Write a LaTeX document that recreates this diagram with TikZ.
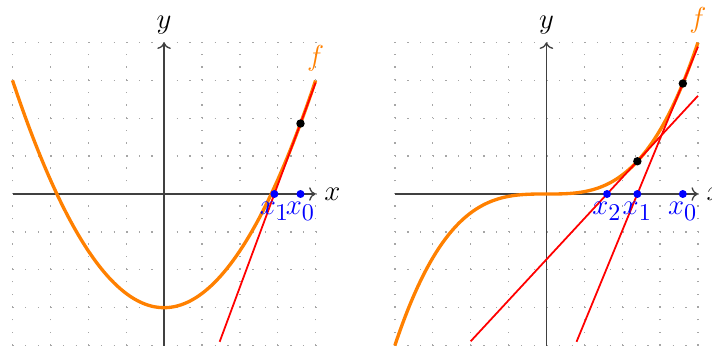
\documentclass[tikz,border=0pt]{standalone}
\usepackage{tikz}
\usepackage{amsmath}
\usetikzlibrary{arrows.meta, positioning}
\DeclareMathSizes{12}{12}{10}{7}

\begin{document}
\begin{tikzpicture}[
        x=0.6cm, y=0.6cm,
        font=\large,
        lbl/.style={scale=1.083},
        gridline/.style={gray!70, line width=0.6pt, dash pattern=on 0.6pt off 5.09pt},
        axis/.style={->, black!75, semithick},
        curve/.style={orange, line width=1.5pt},
        tangent/.style={red, line width=0.8pt},
        root/.style={circle, fill=blue, inner sep=0pt, minimum size=3.6pt},
        pt/.style={circle, fill=black, inner sep=0pt, minimum size=3.8pt},
        rootlabel/.style={lbl, blue, below, inner sep=3.2pt}
    ]
        \useasboundingbox (-4.33,-4.04) rectangle (14.46,5.12);

        % parabola
        \draw[gridline] (-4,-4) grid[step=1] (4,4);
        \draw[axis] (-4,0) -- (4,0) node[lbl, right, black] {$x$};
        \draw[axis] (0,-4) -- (0,4) node[lbl, above, black] {$y$};
        \draw[curve] plot[domain=-4:4, samples=120] (\x, {0.375*\x*\x-3}) node[lbl, above] {$f$};
        \coordinate (ta) at (1.4667,-3.9);
        \coordinate (tb) at (4,2.94);
        \draw[tangent] (ta) -- (tb);
        \node[pt] (p0) at (3.6,1.86) {};
        \node[root] (x0) at (3.6,0) {};
        \node[root] (x1) at (2.9111,0) {};
        \node[rootlabel] at (x0.center) {$x_0$};
        \node[rootlabel] at (x1.center) {$x_1$};

        % cubic
        \begin{scope}[shift={(10.09,0)}]
            \draw[gridline] (-4,-4) grid[step=1] (4,4);
            \draw[axis] (-4,0) -- (4,0) node[lbl, right, black] {$x$};
            \draw[axis] (0,-4) -- (0,4) node[lbl, above, black] {$y$};
            \draw[curve] plot[domain=-4:4, samples=120] (\x, {\x*\x*\x/16}) node[lbl, above] {$f$};
            \coordinate (ua) at (0.795,-3.9);
            \coordinate (ub) at (4,3.888);
            \coordinate (va) at (-2,-3.888);
            \coordinate (vb) at (4,2.592);
            \draw[tangent] (ua) -- (ub);
            \draw[tangent] (va) -- (vb);
            \node[pt] (q0) at (3.6,2.916) {};
            \node[pt] (q1) at (2.4,0.864) {};
            \node[root] (y0) at (3.6,0) {};
            \node[root] (y1) at (2.4,0) {};
            \node[root] (y2) at (1.6,0) {};
            \node[rootlabel] at (y0.center) {$x_0$};
            \node[rootlabel] at (y1.center) {$x_1$};
            \node[rootlabel] at (y2.center) {$x_2$};
        \end{scope}
    \end{tikzpicture}
\end{document}
